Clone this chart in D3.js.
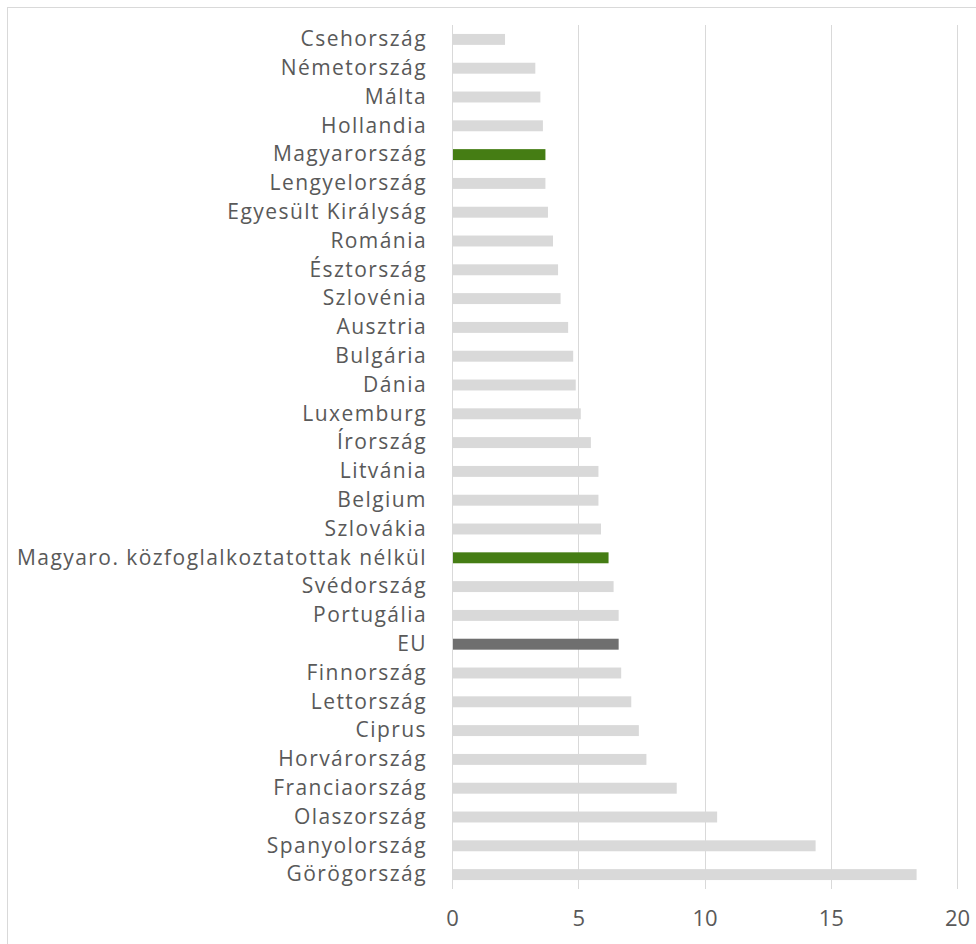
<!DOCTYPE html>
<html>
<head>
<meta charset="utf-8">
<script src="https://cdn.jsdelivr.net/npm/d3@7"></script>
<style>
  body { margin: 0; background: #fff; }
  svg { display: block; }
</style>
</head>
<body>
<script>
// categories top to bottom
var countries = ["Csehország", "Németország", "Málta", "Hollandia", "Magyarország",
    "Lengyelország", "Egyesült Királyság", "Románia", "Észtország", "Szlovénia",
    "Ausztria", "Bulgária", "Dánia", "Luxemburg", "Írország", "Litvánia", "Belgium",
    "Szlovákia", "Magyaro. közfoglalkoztatottak nélkül", "Svédország", "Portugália",
    "EU", "Finnország", "Lettország", "Ciprus", "Horvárország", "Franciaország",
    "Olaszország", "Spanyolország", "Görögország"];
var values = [2.1, 3.3, 3.5, 3.6, 3.7, 3.7, 3.8, 4.0, 4.2, 4.3,
    4.6, 4.8, 4.9, 5.1, 5.5, 5.8, 5.8, 5.9, 6.2, 6.4, 6.6,
    6.6, 6.7, 7.1, 7.4, 7.7, 8.9, 10.5, 14.4, 18.4];
var highlightGreen = ["Magyarország", "Magyaro. közfoglalkoztatottak nélkül"];
var highlightDark = ["EU"];
var xTicks = [0, 5, 10, 15, 20];

var W = 976, H = 944;
var plotLeft = 452, plotRight = 957, plotTop = 25, plotBottom = 889;
var fontFam = "'Open Sans', 'Noto Sans', sans-serif";
var fs = 21;

var svg = d3.select("body").append("svg")
    .attr("width", W)
    .attr("height", H);

// chart frame
svg.append("rect")
    .attr("x", 7.5).attr("y", 7.5)
    .attr("width", 990).attr("height", 990)
    .attr("fill", "none")
    .attr("stroke", "#d9d9d9")
    .attr("stroke-width", 1);

var x = d3.scaleLinear().domain([0, 20]).range([plotLeft, plotRight]);
var y = d3.scaleBand().domain(countries).range([plotTop, plotBottom]).paddingInner(0.62).paddingOuter(0.31);

// gridlines
svg.append("g").selectAll("line")
    .data(xTicks)
    .join("line")
    .attr("x1", d => Math.round(x(d)) + 0.5)
    .attr("x2", d => Math.round(x(d)) + 0.5)
    .attr("y1", plotTop)
    .attr("y2", plotBottom)
    .attr("stroke", "#d9d9d9")
    .attr("stroke-width", 1);

// bars
svg.append("g").selectAll("rect")
    .data(countries)
    .join("rect")
    .attr("x", x(0) + 1)
    .attr("y", d => y(d))
    .attr("width", (d, i) => x(values[i]) - x(0) - 1)
    .attr("height", y.bandwidth())
    .attr("fill", d => highlightGreen.includes(d) ? "#457d14" : (highlightDark.includes(d) ? "#6f6f6f" : "#d9d9d9"));

// category labels
var yAxis = svg.append("g")
    .attr("transform", "translate(" + plotLeft + ",0)")
    .call(d3.axisLeft(y).tickSize(0).tickPadding(25));
yAxis.select(".domain").remove();
yAxis.selectAll("text")
    .attr("fill", "#595959")
    .style("font-family", fontFam)
    .style("font-size", fs + "px");

// widen the letters a bit so the longest label spans about 410px like the original
var longest = 0, longestLen = 1;
yAxis.selectAll("text").each(function (d) {
    var w = this.getComputedTextLength();
    if (w > longest) { longest = w; longestLen = d.length; }
});
var ls = Math.max(0, (410 - longest) / longestLen);
yAxis.selectAll("text").style("letter-spacing", ls + "px");

// x axis labels
var xAxis = svg.append("g")
    .attr("transform", "translate(0," + plotBottom + ")")
    .call(d3.axisBottom(x).tickValues(xTicks).tickSize(0).tickPadding(21));
xAxis.select(".domain").remove();
xAxis.selectAll("text")
    .attr("fill", "#595959")
    .style("font-family", fontFam)
    .style("font-size", "22px");
</script>
</body>
</html>
